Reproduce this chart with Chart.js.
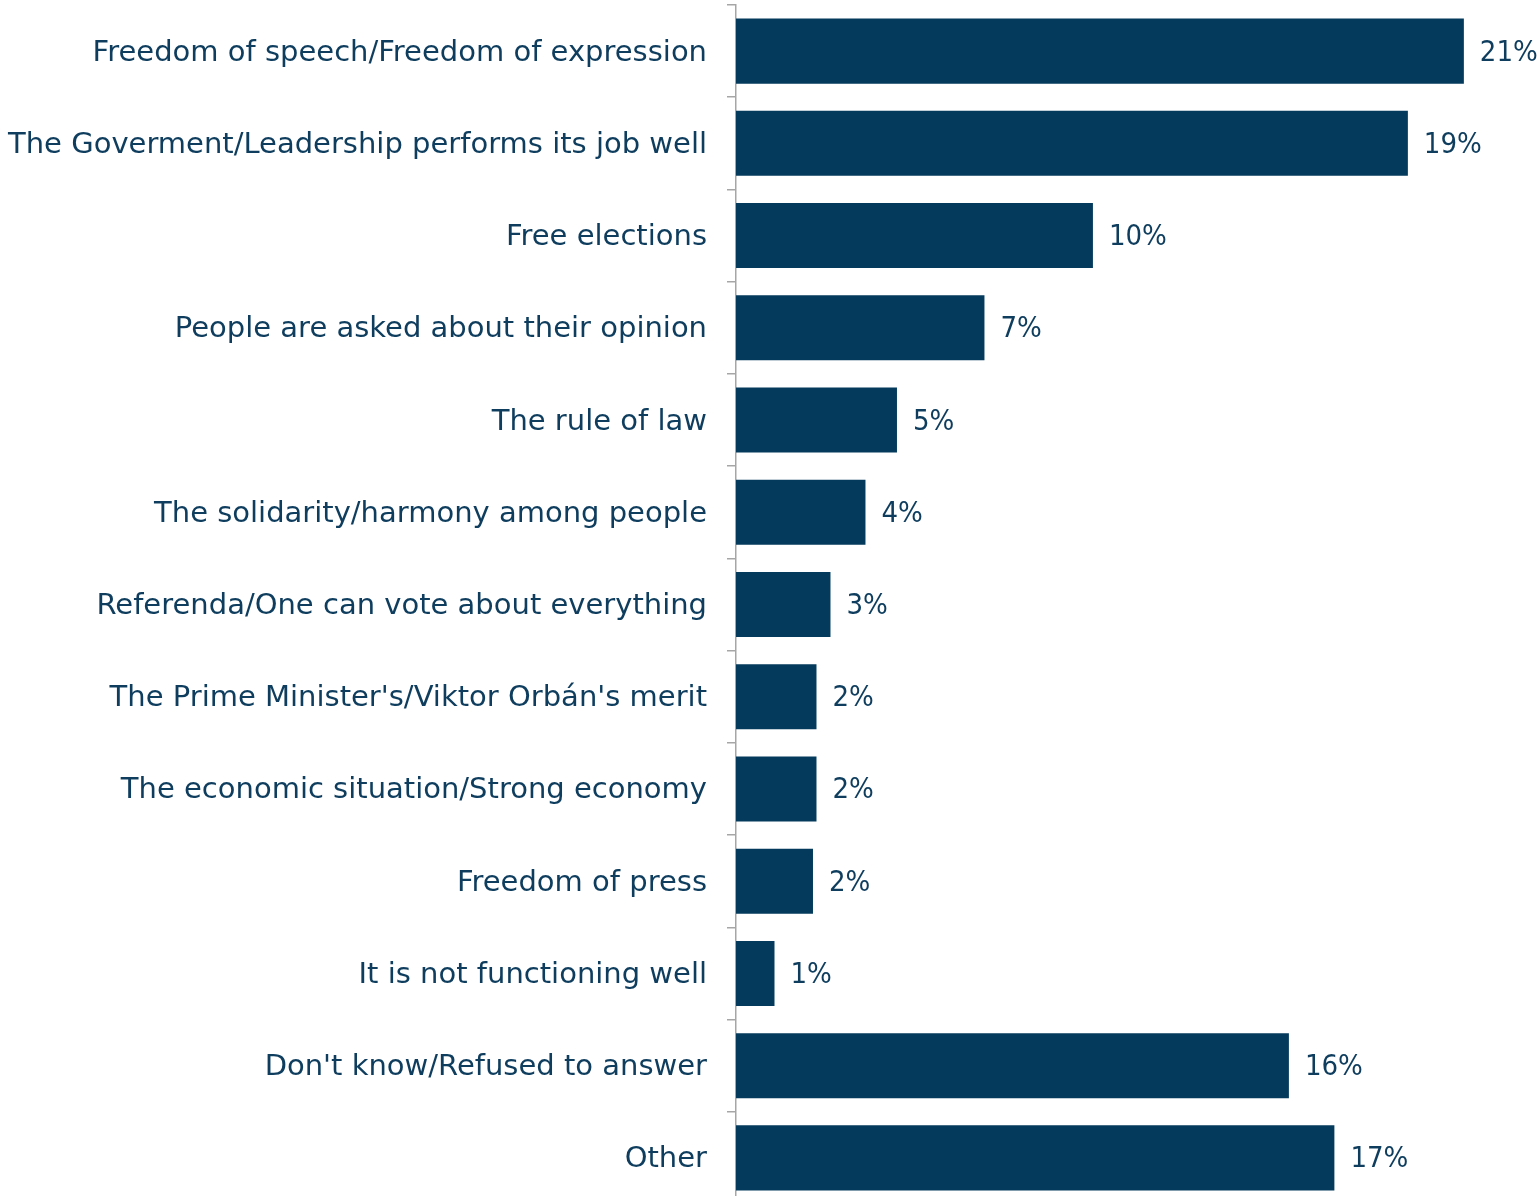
<!DOCTYPE html>
<html>
<head>
<meta charset="utf-8">
<script src="https://cdn.jsdelivr.net/npm/chart.js@4.4.1/dist/chart.umd.min.js"></script>
<style>
  html, body { margin: 0; padding: 0; background: #ffffff; overflow: hidden; }
  #wrap { position: relative; width: 1537px; height: 1204px; }
</style>
</head>
<body>
<div id="wrap"><canvas id="mainChart"></canvas></div>
<script>
// categories (top to bottom)
const categories = [
    'Freedom of speech/Freedom of expression',
    'The Goverment/Leadership performs its job well',
    'Free elections',
    'People are asked about their opinion',
    'The rule of law',
    'The solidarity/harmony among people',
    'Referenda/One can vote about everything',
    "The Prime Minister's/Viktor Orbán's merit",
    'The economic situation/Strong economy',
    'Freedom of press',
    'It is not functioning well',
    "Don't know/Refused to answer",
    'Other'
];
// share of answers, %
const shares = [20.8, 19.2, 10.2, 7.1, 4.6, 3.7, 2.7, 2.3, 2.3, 2.2, 1.1, 15.8, 17.1];

const navy = '#043a5b';
const textColor = '#0e3d5e';
const labelFont = "'DejaVu Sans', sans-serif";
const valueFont = "'DejaVu Sans Condensed', 'DejaVu Sans', sans-serif";

// draws the rounded percentage next to each bar
const valueLabels = {
    id: 'valueLabels',
    afterDatasetsDraw(chart) {
        const ctx = chart.ctx;
        const meta = chart.getDatasetMeta(0);
        ctx.save();
        ctx.font = '29px ' + valueFont;
        ctx.fillStyle = textColor;
        ctx.textAlign = 'left';
        ctx.textBaseline = 'middle';
        meta.data.forEach((bar, i) => {
            ctx.fillText(Math.round(shares[i]) + '%', bar.x + 16, bar.y + 2);
        });
        ctx.restore();
    }
};

const ctx = document.getElementById('mainChart').getContext('2d');
new Chart(ctx, {
    type: 'bar',
    data: {
        labels: categories,
        datasets: [{
            data: shares,
            backgroundColor: navy,
            borderWidth: 0,
            categoryPercentage: 1,
            barPercentage: 0.705
        }]
    },
    options: {
        indexAxis: 'y',
        responsive: true,
        maintainAspectRatio: false,
        animation: false,
        layout: { padding: { top: 5, right: 0, bottom: 0, left: 0 } },
        plugins: { legend: { display: false }, tooltip: { enabled: false } },
        scales: {
            x: { display: false, min: 0, max: 22.89 },
            y: {
                afterFit(scale) {
                    scale.width = 736;
                    // no extra room for the first/last label
                    scale.paddingTop = 0;
                    scale.paddingBottom = 0;
                },
                border: { color: '#a6a6a6', width: 1.5 },
                grid: { drawOnChartArea: false, tickLength: 9, color: '#a6a6a6', lineWidth: 1.5 },
                ticks: {
                    color: textColor,
                    padding: 20,
                    labelOffset: 2,
                    font: { family: labelFont, size: 29 }
                }
            }
        }
    },
    plugins: [valueLabels]
});
</script>
</body>
</html>
